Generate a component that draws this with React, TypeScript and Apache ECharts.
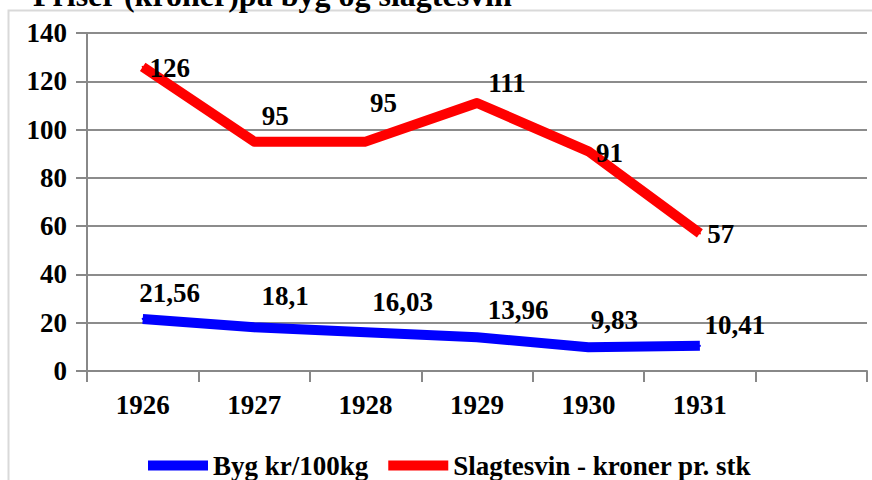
import React, { useEffect, useRef } from "react";
import * as echarts from "echarts";

const categories = ["1926", "1927", "1928", "1929", "1930", "1931", ""];
const bygValues = [21.56, 18.1, 16.03, 13.96, 9.83, 10.41];
const svinValues = [126, 95, 95, 111, 91, 57];
const bygName = "Byg kr/100kg";
const svinName = "Slagtesvin - kroner pr. stk";
const titleText = "Priser (kroner)på byg og slagtesvin";
const bygLabelOffsets = [[27, -26], [31, -31], [37, -30], [41, -27], [26, -27], [35, -21]];
const svinLabelOffsets = [[27, 1], [21, -26], [18, -39], [30, -20], [21, 2], [21, 1]];

const FONT = "'Liberation Serif', 'Times New Roman', serif";
const FS = 27;

export default function App() {
  const ref = useRef<HTMLDivElement>(null);
  useEffect(() => {
    if (!ref.current) return;
    const chart = echarts.init(ref.current, undefined, { renderer: "svg" });
    const labelBase = {
      show: true,
      position: "inside",
      align: "center",
      verticalAlign: "middle",
      color: "#000",
      fontFamily: FONT,
      fontWeight: "bold",
      fontSize: FS,
      formatter: (p: any) => String(p.value).replace(".", ","),
    };
    const mk = (vals: number[], offs: number[][]) =>
      vals.map((v, i) => ({ value: v, label: { ...labelBase, offset: offs[i] } }));
    chart.setOption({
      animation: false,
      backgroundColor: "#fff",
      graphic: [
        {
          type: "polyline",
          shape: { points: [[8.5, 490], [8.5, 10.5], [880, 10.5]] },
          style: { fill: "none", stroke: "#d9d9d9", lineWidth: 2 },
          silent: true,
        },
        {
          type: "text",
          x: 33,
          y: -5,
          style: {
            text: titleText,
            fontFamily: FONT,
            fontWeight: "bold",
            fontSize: 32,
            fill: "#000",
            verticalAlign: "middle",
          },
        },
      ],
      grid: { left: 87, right: 5, top: 33, bottom: 109, containLabel: false },
      legend: {
        left: 143,
        top: 447,
        icon: "rect",
        itemWidth: 60,
        itemHeight: 10,
        itemGap: 20,
        textStyle: { fontFamily: FONT, fontWeight: "bold", fontSize: FS, color: "#000" },
        data: [bygName, svinName],
      },
      xAxis: {
        type: "category",
        data: categories,
        boundaryGap: true,
        axisLine: { lineStyle: { color: "#888", width: 2 } },
        axisTick: { show: true, length: 11, lineStyle: { color: "#888", width: 2 } },
        axisLabel: {
          margin: 20,
          color: "#000",
          fontFamily: FONT,
          fontWeight: "bold",
          fontSize: FS,
        },
        splitLine: { show: false },
      },
      yAxis: {
        type: "value",
        min: 0,
        max: 140,
        interval: 20,
        axisLine: { show: true, lineStyle: { color: "#888", width: 2 } },
        axisTick: { show: true, length: 11, lineStyle: { color: "#888", width: 2 } },
        axisLabel: {
          margin: 20,
          color: "#000",
          fontFamily: FONT,
          fontWeight: "bold",
          fontSize: FS,
        },
        splitLine: { show: true, lineStyle: { color: "#8c8c8c", width: 2 } },
      },
      series: [
        {
          name: bygName,
          type: "line",
          data: mk(bygValues, bygLabelOffsets),
          symbol: "circle",
          symbolSize: 2,
          itemStyle: { color: "#0000ff" },
          lineStyle: { color: "#0000ff", width: 10, cap: "butt", join: "round" },
          z: 3,
        },
        {
          name: svinName,
          type: "line",
          data: mk(svinValues, svinLabelOffsets),
          symbol: "circle",
          symbolSize: 2,
          itemStyle: { color: "#ff0000" },
          lineStyle: { color: "#ff0000", width: 10, cap: "butt", join: "round" },
          z: 3,
        },
      ],
    });
    return () => chart.dispose();
  }, []);
  return (
    <div
      ref={ref}
      style={{ position: "fixed", left: 0, top: 0, width: 872, height: 480 }}
    />
  );
}
